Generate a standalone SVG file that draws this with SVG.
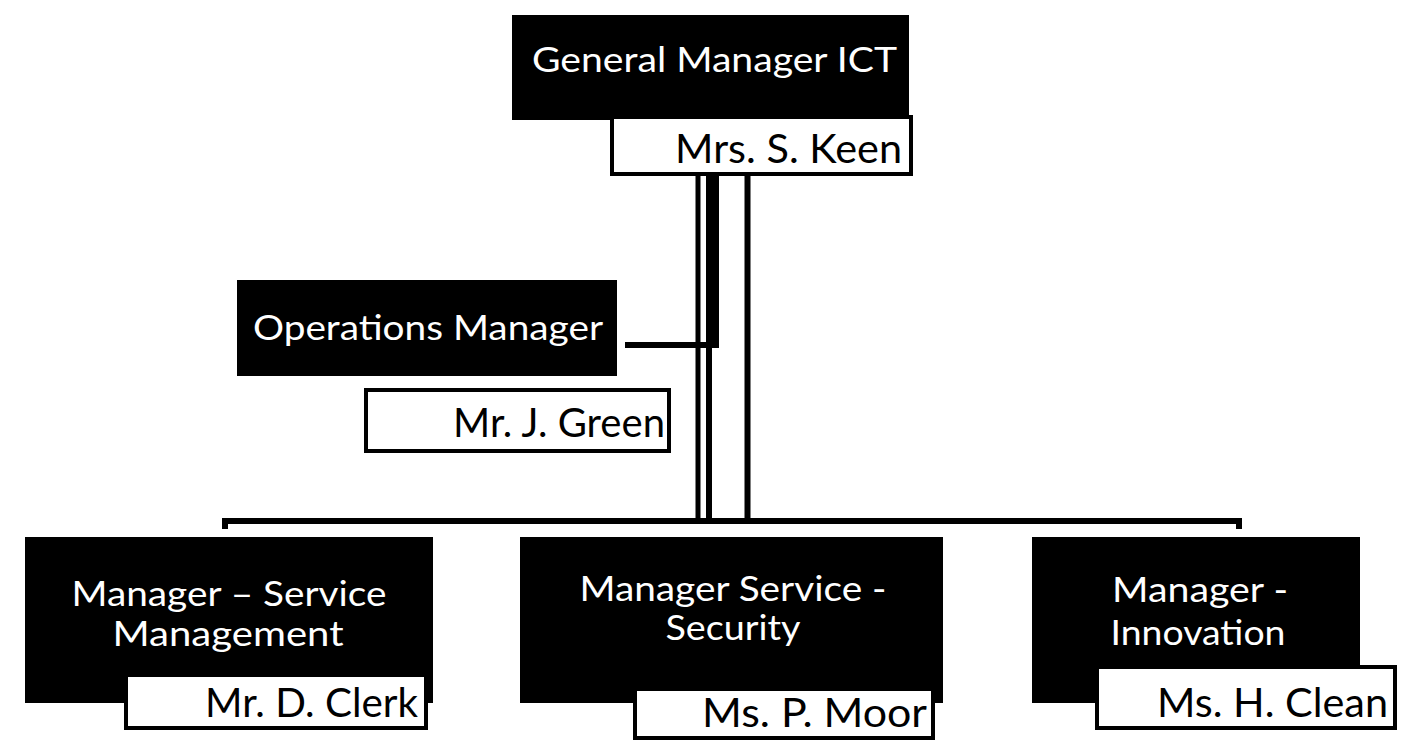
<svg xmlns="http://www.w3.org/2000/svg" width="1414" height="744" viewBox="0 0 1414 744">
<style>
.role{fill:#000}
.name{fill:#fff;stroke:#000;stroke-width:4}
.rt{fill:#fff;font-family:Lato,"Open Sans",sans-serif;font-size:35px;text-anchor:middle}
.nt{fill:#000;font-family:Lato,"Open Sans",sans-serif;font-size:40px}
.ln{stroke:#000;fill:none}
</style>
<rect width="1414" height="744" fill="#fff"/>
<g id="connectors">
<line class="ln" x1="698" y1="174" x2="698" y2="521" stroke-width="5"/>
<line class="ln" x1="712.5" y1="174" x2="712.5" y2="348" stroke-width="13"/>
<line class="ln" x1="709" y1="346" x2="709" y2="521" stroke-width="6"/>
<line class="ln" x1="747.5" y1="174" x2="747.5" y2="521" stroke-width="6"/>
<line class="ln" x1="625" y1="345" x2="719" y2="345" stroke-width="6"/>
<path class="ln" d="M225,529 V521 H1239 V529" stroke-width="6"/>
</g>
<g id="gm">
<rect class="role" x="512" y="15" width="397" height="105"/>
<text class="rt" x="714.5" y="72" font-size="37" textLength="365" lengthAdjust="spacingAndGlyphs">General Manager ICT</text>
<rect class="name" x="612" y="117" width="299" height="57"/>
<text class="nt" x="675" y="163" textLength="227" lengthAdjust="spacingAndGlyphs" font-size="42">Mrs. S. Keen</text>
</g>
<g id="ops">
<rect class="role" x="237" y="280" width="380" height="96"/>
<text class="rt" x="428" y="340" font-size="37" textLength="350" lengthAdjust="spacingAndGlyphs">Operations Manager</text>
<rect class="name" x="366" y="390" width="303" height="61"/>
<text class="nt" x="453" y="437" textLength="212" lengthAdjust="spacingAndGlyphs">Mr. J. Green</text>
</g>
<g id="svcmgmt">
<rect class="role" x="25" y="537" width="408" height="166"/>
<text class="rt" x="229" y="606" textLength="315" lengthAdjust="spacingAndGlyphs">Manager – Service</text>
<text class="rt" x="228" y="646" textLength="231" lengthAdjust="spacingAndGlyphs">Management</text>
<rect class="name" x="126" y="675" width="300" height="53"/>
<text class="nt" x="205" y="717" textLength="213" lengthAdjust="spacingAndGlyphs">Mr. D. Clerk</text>
</g>
<g id="security">
<rect class="role" x="520" y="537" width="423" height="166"/>
<text class="rt" x="733" y="601" textLength="307" lengthAdjust="spacingAndGlyphs">Manager Service -</text>
<text class="rt" x="733" y="640" textLength="135" lengthAdjust="spacingAndGlyphs">Security</text>
<rect class="name" x="635" y="689" width="298" height="49"/>
<text class="nt" x="702" y="727" textLength="225" lengthAdjust="spacingAndGlyphs">Ms. P. Moor</text>
</g>
<g id="innovation">
<rect class="role" x="1032" y="537" width="328" height="166"/>
<text class="rt" x="1200" y="602" textLength="176" lengthAdjust="spacingAndGlyphs">Manager -</text>
<text class="rt" x="1198" y="645" textLength="175" lengthAdjust="spacingAndGlyphs">Innovation</text>
<rect class="name" x="1097" y="667" width="298" height="61"/>
<text class="nt" x="1157" y="717" textLength="231" lengthAdjust="spacingAndGlyphs">Ms. H. Clean</text>
</g>
</svg>
